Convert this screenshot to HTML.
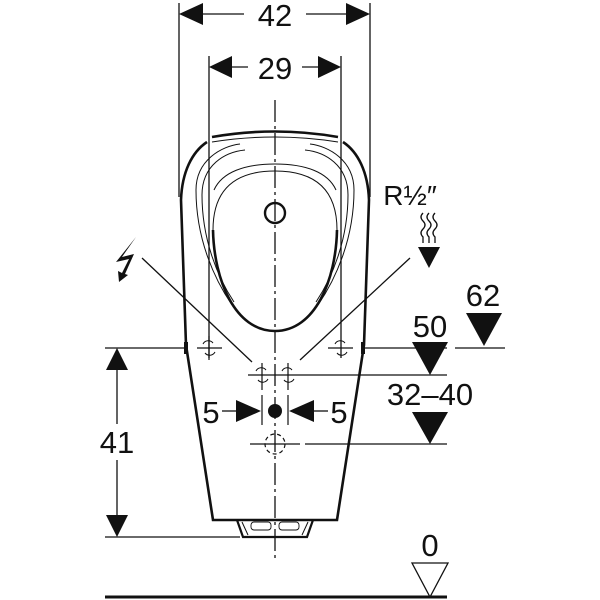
<!DOCTYPE html>
<html><head><style>body{margin:0;background:#fff}svg{display:block}text{font-family:"Liberation Sans",sans-serif;fill:#111}</style></head>
<body>
<svg width="600" height="600" viewBox="0 0 600 600" xmlns="http://www.w3.org/2000/svg">
<g stroke="#111" fill="none" stroke-width="1.3">
<line x1="179" y1="3" x2="179" y2="197"/>
<line x1="370" y1="3" x2="370" y2="197"/>
<line x1="209" y1="56" x2="209" y2="358"/>
<line x1="341" y1="56" x2="341" y2="358"/>
<line x1="190" y1="14" x2="244" y2="14"/><line x1="306" y1="14" x2="360" y2="14"/>
<line x1="220" y1="67" x2="248" y2="67"/><line x1="302" y1="67" x2="330" y2="67"/>
<line x1="275" y1="100" x2="275" y2="560" stroke-dasharray="22,4,3,4"/>
<path d="M207,142 C192,152 182,172 181,200 L186,345 L213,520 L337,520 L364,345 L369,200 C368,172 358,152 343,142" stroke-width="2.6"/>
<path d="M212,137 Q275,126 338,137" stroke-width="2.6"/>
<path d="M237,520 L243,537 L307,537 L313,520" stroke-width="2.2"/>
<path d="M242,522 L248,535 M308,522 L302,535" stroke-width="1"/>
<rect x="251" y="522" width="20" height="8" rx="3" stroke-width="0.9"/>
<rect x="279" y="522" width="20" height="8" rx="3" stroke-width="0.9"/>
<path d="M212,142 Q275,132 338,142" stroke-width="1"/>
<path d="M196,190 C196,160 222,146 240,144 M310,144 C328,146 354,160 354,190 C354,240 335,280 318,305" stroke-width="1"/>
<path d="M196,190 C196,240 215,280 232,305" stroke-width="1"/>
<path d="M202,195 C202,165 225,152 245,150 M305,150 C325,152 348,165 348,195 C348,240 332,278 316,302" stroke-width="1"/>
<path d="M202,195 C202,240 218,278 234,302" stroke-width="1"/>
<path d="M214,190 C222,172 245,164 275,164 C305,164 328,172 336,190" stroke-width="1"/>
<path d="M213,230 C214,280 235,331 275,331 C315,331 336,280 337,230" stroke-width="2.6"/>
<path d="M213,230 C213,200 225,171 275,171 C325,171 337,200 337,230" stroke-width="1"/>
<circle cx="275" cy="213" r="10" stroke-width="2.4"/>
<line x1="105" y1="348" x2="185" y2="348"/>
<line x1="365" y1="348" x2="447" y2="348"/>
<line x1="455" y1="348" x2="505" y2="348"/>
<line x1="300" y1="375" x2="447" y2="375"/>
<line x1="305" y1="444" x2="447" y2="444"/>
<line x1="105" y1="537" x2="240" y2="537"/>
<line x1="105" y1="597" x2="447" y2="597" stroke-width="3"/>
<g stroke-width="1.2">
<line x1="197" y1="348" x2="222" y2="348"/><line x1="209" y1="336" x2="209" y2="360"/>
<line x1="328" y1="348" x2="353" y2="348"/>
<line x1="248" y1="375" x2="300" y2="375"/><line x1="262" y1="363" x2="262" y2="390"/><line x1="288" y1="363" x2="288" y2="390"/>
<line x1="262" y1="395" x2="262" y2="425"/><line x1="288" y1="395" x2="288" y2="425"/>
<line x1="250" y1="444" x2="300" y2="444"/>
</g>
<path d="M203,344 A6,6 0 0 1 213,343 M215,352 A6,6 0 0 1 205,353 M335,344 A6,6 0 0 1 345,343 M347,352 A6,6 0 0 1 337,353 M256,371 A6,6 0 0 1 266,370 M268,379 A6,6 0 0 1 258,380 M282,371 A6,6 0 0 1 292,370 M294,379 A6,6 0 0 1 284,380" stroke-width="1"/>
<circle cx="275" cy="444" r="10" stroke-dasharray="4,3" stroke-width="1.2"/>
<line x1="142" y1="258" x2="252" y2="362"/>
<line x1="410" y1="258" x2="300" y2="360"/>
<line x1="117" y1="370" x2="117" y2="424"/><line x1="117" y1="460" x2="117" y2="515"/>
<line x1="222" y1="411" x2="236" y2="411"/><line x1="314" y1="411" x2="328" y2="411"/>
<path d="M423,213 q-4,4 0,8 q4,4 0,8 q-4,4 0,8 l0,6 M429,213 q-4,4 0,8 q4,4 0,8 q-4,4 0,8 l0,6 M435,213 q-4,4 0,8 q4,4 0,8 q-4,4 0,8 l0,6" stroke-width="1.3"/>
<path d="M412,563 L448,563 L430,597 Z" stroke-width="1.3"/>
</g>
<g fill="#111">
<path d="M179,14 L203,3 L203,25 Z"/><path d="M370,14 L346,3 L346,25 Z"/>
<path d="M209,67 L232,56 L232,78 Z"/><path d="M341,67 L318,56 L318,78 Z"/>
<path d="M117,348 L106,370 L128,370 Z"/><path d="M117,537 L106,515 L128,515 Z"/>
<path d="M261,411 L236,400 L236,422 Z"/><path d="M289,411 L314,400 L314,422 Z"/>
<circle cx="275" cy="411" r="7"/>
<path d="M418,247 L440,247 L429,268 Z"/>
<path d="M466,313 L502,313 L484,346 Z"/>
<path d="M412,342 L448,342 L430,375 Z"/>
<path d="M412,412 L448,412 L430,444 Z"/>
<path d="M136,237 L116,262 L129,259 L122,273 L118,271 L119,282 L128,275 L125,274 L134,254 L122,257 Z"/>
<rect x="184" y="342" width="4" height="12"/><rect x="361" y="342" width="4" height="12"/>
</g>
<g font-size="31" text-anchor="middle">
<text x="275" y="26">42</text>
<text x="275" y="79">29</text>
<text x="117" y="453">41</text>
<text x="211" y="423">5</text>
<text x="339" y="423">5</text>
<text x="483" y="306">62</text>
<text x="430" y="337">50</text>
<text x="430" y="405">32–40</text>
<text x="430" y="556">0</text>
<text x="410" y="205" font-size="28">R½″</text>
</g>
</svg>
</body></html>
